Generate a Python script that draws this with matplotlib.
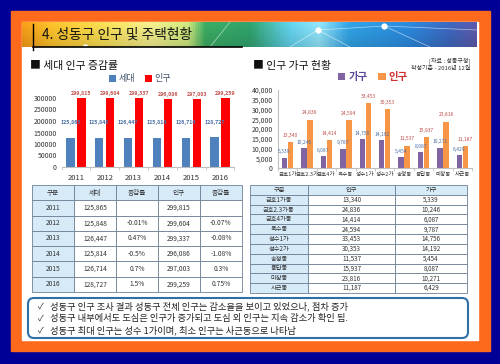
import numpy as np
import matplotlib.pyplot as plt
from matplotlib.patches import Rectangle, FancyBboxPatch
from matplotlib.colors import LinearSegmentedColormap
from matplotlib.ticker import FuncFormatter

plt.rcParams['font.family'] = ['Noto Sans CJK KR', 'DejaVu Sans']

# left chart / table data
years = ['2011', '2012', '2013', '2014', '2015', '2016']
households = [125865, 125848, 126447, 125814, 126714, 128727]
population = [299815, 299604, 299337, 296086, 297003, 299259]
hh_rate = ['', '-0.01%', '0.47%', '-0.5%', '0.7%', '1.5%']
pop_rate = ['', '-0.07%', '-0.08%', '-1.08%', '0.3%', '0.75%']

# right chart / table data
dongs_short = ['금호1가', '금호2.3가', '금호4가', '옥수동', '성수1가',
               '성수2가', '송정동', '용답동', '마장동', '사근동']
dongs = ['금호1가동', '금호2.3가동', '금호4가동', '옥수동', '성수1가',
         '성수2가', '송정동', '용답동', '마장동', '사근동']
dong_pop = [13340, 24836, 14414, 24594, 33453, 30353, 11537, 15937, 23816, 11187]
dong_hh = [5339, 10246, 6087, 9787, 14756, 14192, 5454, 8087, 10271, 6429]

notes = ['성동구 인구 조사 결과 성동구 전체 인구는 감소율을 보이고 있었으나, 점차 증가',
         '성동구 내부에서도 도심은 인구가 증가되고 도심 외 인구는 지속 감소가 확인 됨.',
         '성동구 최대 인구는 성수 1가이며, 최소 인구는 사근동으로 나타남']

W, H = 500, 364
fig = plt.figure(figsize=(5, 3.64), dpi=100)

# background layer in pixel coords
bg = fig.add_axes([0, 0, 1, 1])
bg.axis('off')
bg.add_patch(Rectangle((0, 0), W, H, color='#000096'))
bg.add_patch(Rectangle((11, 11), 479, 340, color='#fd6a1c'))
bg.add_patch(Rectangle((22, 22), 456, 318, color='white'))

# title banner gradient
stops = [(22, '#f29a18'), (50, '#f6bd2a'), (100, '#f3d850'), (150, '#eee98a'),
         (188, '#c8e27a'), (205, '#3aa860'), (250, '#2f9f6a'), (290, '#5fcde8'),
         (320, '#8fe0f5'), (350, '#2f9fe0'), (410, '#2a86d8'), (450, '#3b66bb'),
         (477, '#5a58a8')]
cmap = LinearSegmentedColormap.from_list(
    'banner', [((p - 22) / 455, c) for p, c in stops])
grad = cmap(np.linspace(0, 1, 455))[:, :3]
shade = np.linspace(1.04, 0.9, 25)[:, None, None]
img = np.clip(grad[None, :, :] * shade, 0, 1)
bg.imshow(img, extent=(22, 477, 47, 22), aspect='auto', origin='upper', zorder=1)
for (x0, y0, x1, y1) in [(290, 47, 318, 30), (318, 30, 384, 26), (384, 26, 430, 47),
                         (318, 30, 350, 47), (384, 26, 477, 30), (210, 47, 230, 22)]:
    bg.plot([x0, x1], [y0, y1], color='white', lw=0.5, alpha=0.6, zorder=2)
bg.scatter([318, 384, 85], [30, 26, 47], s=12, color='white', zorder=3)
bg.plot([33, 33], [24, 50], color='black', lw=1, zorder=4)
bg.plot([33, 242], [47, 47], color='black', lw=1.2, zorder=4)
bg.text(42, 35, '4. 성동구 인구 및 주택현황', fontsize=9.9, va='center', color='#111111', zorder=5)

bg.text(30, 66, '■ 세대 인구 증감률', fontsize=7.8, va='center', color='#111111')
bg.text(253, 66, '■ 인구 가구 현황', fontsize=7.8, va='center', color='#111111')
bg.text(470, 61, '[자료 : 성동구청]', fontsize=4.3, ha='right', va='center', color='#333333')
bg.text(470, 69, '작성기준 - 2016년 12월', fontsize=4.3, ha='right', va='center', color='#333333')


def draw_table(cols, y0, y1, header, rows, fs):
    nrow = len(rows) + 1
    rh = (y1 - y0) / nrow
    for r in range(nrow):
        cells = header if r == 0 else rows[r - 1]
        for c in range(len(cols) - 1):
            fc = '#d6eaf8' if (r == 0 or c == 0) else 'white'
            bg.add_patch(Rectangle((cols[c], y0 + r * rh), cols[c + 1] - cols[c], rh,
                                   fc=fc, ec='#6d8196', lw=0.6))
            bg.text((cols[c] + cols[c + 1]) / 2, y0 + (r + 0.5) * rh, cells[c],
                    fontsize=fs, ha='center', va='center', color='#333333')


fmt = lambda v: f'{v:,}'
draw_table([32, 74, 116, 158, 200, 242], 185, 292, ['구분', '세대', '증감률', '인구', '증감률'],
           [[years[i], fmt(households[i]), hh_rate[i], fmt(population[i]), pop_rate[i]]
            for i in range(len(years))], 4.8)
draw_table([250, 308, 395, 467], 185, 293, ['구분', '인구', '가구'],
           [[dongs[i], fmt(dong_pop[i]), fmt(dong_hh[i])] for i in range(len(dongs))], 4.5)

# notes box
bg.add_patch(FancyBboxPatch((28, 298), 440, 40, boxstyle='round,pad=0,rounding_size=6',
                            fc='white', ec='#2e6fa8', lw=1.5))
for i, t in enumerate(notes):
    y = 306 + i * 12
    bg.text(38, y, '✓', fontsize=6, va='center', color='#222222')
    bg.text(50, y, t, fontsize=6.7, va='center', color='#222222')

bg.set_xlim(0, W)
bg.set_ylim(H, 0)

# left chart
ax1 = fig.add_axes([61.6 / W, 1 - 167 / H, 172.8 / W, 69 / H])
x = np.arange(len(years))
ax1.bar(x - 0.19, households, 0.28, color='#4f81bd', label='세대')
ax1.bar(x + 0.19, population, 0.28, color='#ff0000', label='인구')
for i in range(len(years)):
    ax1.annotate(fmt(households[i]), (x[i] - 0.19, households[i]), xytext=(0, 11),
                 textcoords='offset points', ha='center', va='center', fontsize=3.8,
                 color='#4a6fa5', fontweight='bold')
    ax1.annotate(fmt(population[i]), (x[i] + 0.19, population[i]), xytext=(0, 1.5),
                 textcoords='offset points', ha='center', va='bottom', fontsize=3.8,
                 color='#c0504d', fontweight='bold', annotation_clip=False)
ax1.set_xlim(-0.5, len(years) - 0.5)
ax1.set_ylim(0, 300000)
ax1.set_yticks(np.arange(0, 300001, 50000))
ax1.set_xticks(x)
ax1.set_xticklabels(years)
ax1.set_xticks(np.arange(-0.5, len(years), 1), minor=True)
ax1.tick_params(axis='x', which='major', length=0, labelsize=5.5, colors='#333333', pad=5)
ax1.tick_params(axis='x', which='minor', length=2, color='#bfbfbf')
ax1.tick_params(axis='y', length=0, labelsize=5, colors='#333333')
for s in ['top', 'right', 'left']:
    ax1.spines[s].set_visible(False)
ax1.spines['bottom'].set_color('#bfbfbf')
ax1.patch.set_alpha(0)
leg1 = ax1.legend(loc='center', bbox_to_anchor=(140 / W, 1 - 79 / H), bbox_transform=fig.transFigure,
                  ncol=2, frameon=False, fontsize=6.5, handlelength=0.8, handleheight=0.8,
                  columnspacing=1.0, handletextpad=0.3)
for t in leg1.get_texts():
    t.set_color('#44546a')

# right chart
ax2 = fig.add_axes([277.8 / W, 1 - 168 / H, 194.4 / W, 78 / H])
x2 = np.arange(len(dongs_short))
ax2.bar(x2 - 0.155, dong_hh, 0.28, color='#8064a2', label='가구')
ax2.bar(x2 + 0.155, dong_pop, 0.28, color='#f79646', label='인구')
for i in range(len(dongs_short)):
    ax2.annotate(fmt(dong_hh[i]), (x2[i] - 0.155, dong_hh[i]), xytext=(0, 2.5),
                 textcoords='offset points', ha='center', va='bottom', fontsize=3.6,
                 color='#4a6fa5')
    ax2.annotate(fmt(dong_pop[i]), (x2[i] + 0.155, dong_pop[i]), xytext=(0, 3),
                 textcoords='offset points', ha='center', va='bottom', fontsize=3.6,
                 color='#c0504d')
ax2.set_xlim(-0.5, len(dongs_short) - 0.5)
ax2.set_ylim(0, 40000)
ax2.set_yticks(np.arange(0, 40001, 5000))
ax2.yaxis.set_major_formatter(FuncFormatter(lambda v, p: f'{int(v):,}'))
ax2.set_xticks(x2)
ax2.set_xticklabels(dongs_short)
ax2.set_xticks(np.arange(-0.5, len(dongs_short), 1), minor=True)
ax2.tick_params(axis='x', which='major', length=0, labelsize=4, colors='#333333', pad=3)
ax2.tick_params(axis='x', which='minor', length=2, color='#bfbfbf')
ax2.tick_params(axis='y', length=0, labelsize=5, colors='#333333')
for s in ['top', 'right']:
    ax2.spines[s].set_visible(False)
ax2.spines['bottom'].set_color('#bfbfbf')
ax2.spines['left'].set_color('#bfbfbf')
ax2.patch.set_alpha(0)
leg2 = ax2.legend(loc='center', bbox_to_anchor=(373 / W, 1 - 77 / H), bbox_transform=fig.transFigure,
                  ncol=2, frameon=False, fontsize=7.5, handlelength=0.7, handleheight=0.7,
                  columnspacing=1.0, handletextpad=0.3, prop={'weight': 'bold', 'size': 7.5})
leg2.get_texts()[0].set_color('#5b4a9a')
leg2.get_texts()[1].set_color('#d03030')

fig.savefig('out.png', dpi=100)
